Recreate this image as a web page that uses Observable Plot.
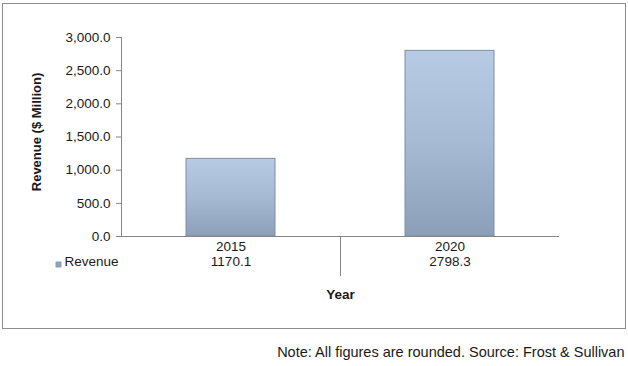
<!DOCTYPE html>
<html>
<head>
<meta charset="utf-8">
<script src="https://cdn.jsdelivr.net/npm/d3@7"></script>
<script src="https://cdn.jsdelivr.net/npm/@observablehq/plot@0.6"></script>
<style>
  html, body { margin: 0; padding: 0; background: #fff; }
  #wrap { position: relative; width: 628px; height: 366px; }
  #border { position: absolute; left: 2px; top: 3px; width: 622px; height: 324px; border: 1px solid #8c8c8c; pointer-events: none; }
</style>
</head>
<body>
<svg width="0" height="0" style="position:absolute">
  <defs>
    <linearGradient id="barGrad" x1="0" y1="0" x2="0" y2="1">
      <stop offset="0" stop-color="#b7cbe4"/>
      <stop offset="0.5" stop-color="#a6bad3"/>
      <stop offset="1" stop-color="#8b9fb9"/>
    </linearGradient>
  </defs>
</svg>
<div id="wrap"><div id="border"></div></div>
<script>
const years = ["2015", "2020"];
const revenue = [1170.1, 2798.3];
const yTicks = [0, 500, 1000, 1500, 2000, 2500, 3000];
const seriesName = "Revenue";
const yTitle = "Revenue ($ Million)";
const xTitle = "Year";
const note = "Note: All figures are rounded. Source: Frost & Sullivan";

const data = years.map((y, i) => ({year: y, value: revenue[i]}));
const fmt = d3.format(",.1f");
const axisGray = "#868686";

const separator = (index, scales, values, dims) => {
  const g = d3.create("svg:g");
  const bottom = dims.height - dims.marginBottom;
  years.slice(1).forEach(y => {
    const x = Math.round(scales.x(y)) + 0.5;
    g.append("line").attr("x1", x).attr("x2", x)
      .attr("y1", bottom).attr("y2", bottom + 40)
      .attr("stroke", axisGray);
  });
  return g.node();
};

const chart = Plot.plot({
  width: 628,
  height: 366,
  marginLeft: 121,
  marginRight: 69,
  marginTop: 37,
  marginBottom: 130,
  style: {fontFamily: "'Liberation Sans', Arial, sans-serif", fontSize: "13px", color: "#1a1a1a", background: "transparent"},
  x: {domain: years, padding: 0, axis: null},
  y: {domain: [0, 3000], axis: null},
  marks: [
    Plot.axisY({ticks: yTicks, tickFormat: fmt, tickSize: 5, tickPadding: 6, stroke: axisGray, label: null, fontSize: 13.5}),
    Plot.frame({anchor: "left", stroke: axisGray}),
    Plot.barY(data, {x: "year", y: "value", insetLeft: 65, insetRight: 65, fill: "url(#barGrad)", stroke: "#7d8ea5", strokeWidth: 1}),
    Plot.ruleY([0], {stroke: axisGray}),
    Plot.axisX({tickSize: 0, tickPadding: 5, label: null, fontSize: 13.5}),
    Plot.text(data, {x: "year", text: d => String(d.value), frameAnchor: "bottom", dy: 29, fontSize: 13.5}),
    separator,
    Plot.dot([seriesName], {frameAnchor: "bottom-left", symbol: "square", r: 3, fill: "#8fa3bd", stroke: "#7d8ea5", strokeWidth: 0.5, dx: -63, dy: 28}),
    Plot.text([seriesName], {frameAnchor: "bottom-left", textAnchor: "end", dx: -3, dy: 29, fontSize: 13.5}),
    Plot.text([xTitle], {frameAnchor: "bottom", dy: 62, fontWeight: "bold", fontSize: 13.5}),
    Plot.text([yTitle], {frameAnchor: "left", textAnchor: "middle", rotate: -90, dx: -85, dy: -5, fontWeight: "bold", fontSize: 13}),
    Plot.text([note], {frameAnchor: "bottom-right", textAnchor: "end", dx: 65, dy: 120, fontSize: 14.5})
  ]
});
document.getElementById("wrap").prepend(chart);
</script>
</body>
</html>
